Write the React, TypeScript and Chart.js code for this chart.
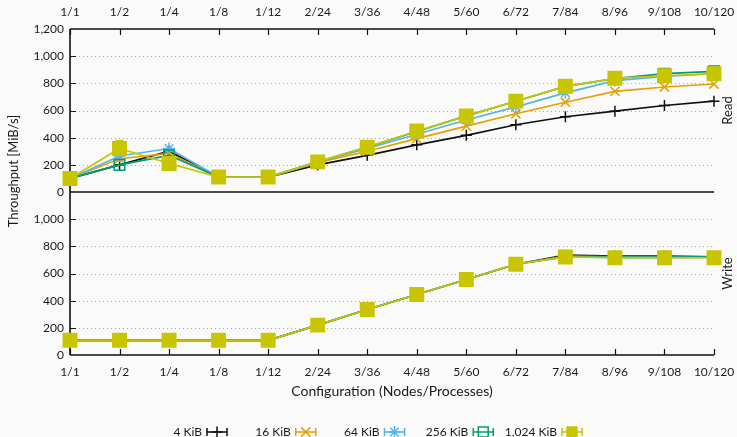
import React, { useEffect, useRef } from 'react';
import { Chart, registerables } from 'chart.js';
Chart.register(...registerables);

const categories = ['1/1', '1/2', '1/4', '1/8', '1/12', '2/24', '3/36', '4/48', '5/60', '6/72', '7/84', '8/96', '9/108', '10/120'];
const seriesNames = ['4 KiB', '16 KiB', '64 KiB', '256 KiB', '1,024 KiB'];

const read4 = [100, 200, 300, 110, 110, 200, 270, 347, 417, 495, 554, 595, 637, 669];
const read16 = [100, 245, 285, 110, 110, 215, 300, 393, 485, 576, 661, 741, 773, 795];
const read64 = [100, 265, 320, 110, 110, 220, 320, 425, 530, 627, 730, 820, 851, 871];
const read256 = [100, 200, 270, 110, 110, 222, 330, 445, 560, 668, 778, 835, 871, 888];
const read1024 = [100, 320, 210, 110, 110, 222, 330, 449, 559, 669, 778, 837, 856, 871];
const read1024Err = [0, 60, 20, 0, 0, 0, 0, 0, 0, 0, 0, 0, 0, 0];

const write4 = [108, 108, 108, 108, 108, 220, 335, 445, 556, 668, 735, 728, 728, 722];
const write16 = [108, 108, 108, 108, 108, 220, 335, 445, 556, 668, 728, 722, 720, 718];
const write64 = [108, 108, 108, 108, 108, 220, 335, 445, 556, 668, 724, 718, 718, 718];
const write256 = [108, 108, 108, 108, 108, 220, 335, 445, 556, 668, 722, 718, 718, 722];
const write1024 = [108, 108, 108, 108, 108, 220, 335, 445, 556, 668, 722, 716, 716, 716];

const yTicks = [0, 200, 400, 600, 800, 1000, 1200];
const yMin = 0;
const yMax = 1200;
const yStep = 200;

const colors = ['#111111', '#E69F00', '#56B4E9', '#009E73', '#C9C500'];
const pointStyles = ['cross', 'crossRot', 'star', 'rect', 'rect'];
const pointRadii = [5.5, 6.5, 6, 7.5, 9.5];
const pointFills = ['#111111', '#E69F00', '#56B4E9', 'rgba(0,0,0,0)', '#C9C500'];

const readSeries = [read4, read16, read64, read256, read1024];
const writeSeries = [write4, write16, write64, write256, write1024];

const FONT = 'Lato, "Open Sans", sans-serif';
const TEXT = '#1a1a1a';

const fmt = (v: number) => v.toLocaleString('en-US');

function drawMarker(ctx: CanvasRenderingContext2D, style: string, x: number, y: number, r: number, stroke: string, fill: string) {
  ctx.save();
  ctx.strokeStyle = stroke;
  ctx.fillStyle = fill;
  ctx.lineWidth = 1.5;
  ctx.beginPath();
  if (style === 'cross') {
    ctx.moveTo(x - r, y); ctx.lineTo(x + r, y);
    ctx.moveTo(x, y - r); ctx.lineTo(x, y + r);
    ctx.stroke();
  } else if (style === 'crossRot') {
    const o = r * Math.SQRT1_2;
    ctx.moveTo(x - o, y - o); ctx.lineTo(x + o, y + o);
    ctx.moveTo(x - o, y + o); ctx.lineTo(x + o, y - o);
    ctx.stroke();
  } else if (style === 'star') {
    const o = r * Math.SQRT1_2;
    ctx.moveTo(x - r, y); ctx.lineTo(x + r, y);
    ctx.moveTo(x, y - r); ctx.lineTo(x, y + r);
    ctx.moveTo(x - o, y - o); ctx.lineTo(x + o, y + o);
    ctx.moveTo(x - o, y + o); ctx.lineTo(x + o, y - o);
    ctx.stroke();
  } else {
    const s = r * Math.SQRT1_2;
    ctx.rect(x - s, y - s, 2 * s, 2 * s);
    ctx.fill();
    ctx.stroke();
  }
  ctx.restore();
}

const framePlugin = {
  id: 'frame',
  beforeDatasetsDraw(chart: any) {
    const { ctx, chartArea, scales } = chart;
    const { left, right, top, bottom } = chartArea;
    const mid = scales.yRead.bottom;
    ctx.save();
    // dotted grid
    ctx.strokeStyle = '#a8a8a8';
    ctx.lineWidth = 1;
    ctx.setLineDash([1, 3]);
    ctx.beginPath();
    [scales.yRead, scales.yWrite].forEach((sc: any) => {
      yTicks.forEach((v) => {
        if (v === yMin || v === yMax) return;
        const y = Math.round(sc.getPixelForValue(v)) + 0.5;
        ctx.moveTo(left + 9, y); ctx.lineTo(right, y);
      });
    });
    ctx.stroke();
    ctx.setLineDash([]);
    // y inward ticks
    ctx.strokeStyle = '#111';
    ctx.lineWidth = 1.2;
    ctx.beginPath();
    [scales.yRead, scales.yWrite].forEach((sc: any) => {
      yTicks.forEach((v) => {
        if (v === yMin || v === yMax) return;
        const y = Math.round(sc.getPixelForValue(v)) + 0.5;
        ctx.moveTo(left, y); ctx.lineTo(left + 6, y);
      });
    });
    ctx.stroke();
    // frame
    ctx.lineWidth = 1.6;
    ctx.beginPath();
    ctx.moveTo(left, top); ctx.lineTo(right, top);
    ctx.moveTo(left, bottom); ctx.lineTo(right, bottom);
    ctx.moveTo(left, mid); ctx.lineTo(right, mid);
    ctx.moveTo(left, top); ctx.lineTo(left, bottom);
    ctx.stroke();
    ctx.lineWidth = 1.2;
    ctx.beginPath();
    categories.forEach((_, i) => {
      const x = Math.round(scales.x.getPixelForValue(i)) + 0.5;
      ctx.moveTo(x, top); ctx.lineTo(x, top + 6);
      ctx.moveTo(x, bottom); ctx.lineTo(x, bottom - 6);
    });
    ctx.stroke();
    ctx.restore();
  },
  afterDatasetsDraw(chart: any) {
    const { ctx, scales } = chart;
    ctx.save();
    ctx.strokeStyle = colors[4];
    ctx.lineWidth = 1.5;
    read1024Err.forEach((e, i) => {
      if (!e) return;
      const x = scales.x.getPixelForValue(i);
      const y1 = scales.yRead.getPixelForValue(read1024[i] + e);
      const y0 = scales.yRead.getPixelForValue(read1024[i]);
      ctx.beginPath();
      ctx.moveTo(x, y0); ctx.lineTo(x, y1);
      ctx.moveTo(x - 4, y1); ctx.lineTo(x + 4, y1);
      ctx.stroke();
    });
    ctx.restore();
  },
  afterDraw(chart: any) {
    const { ctx, chartArea, scales } = chart;
    ctx.save();
    ctx.fillStyle = TEXT;
    ctx.font = `13px ${FONT}`;
    ctx.textAlign = 'center';
    ctx.textBaseline = 'middle';
    const side = (label: string, sc: any) => {
      ctx.save();
      ctx.translate(chartArea.right + 14, (sc.top + sc.bottom) / 2);
      ctx.rotate(-Math.PI / 2);
      ctx.fillText(label, 0, 0);
      ctx.restore();
    };
    side('Read', scales.yRead);
    side('Write', scales.yWrite);
    ctx.save();
    ctx.translate(14, 171);
    ctx.rotate(-Math.PI / 2);
    ctx.fillText('Throughput [MiB/s]', 0, 0);
    ctx.restore();

    // legend
    ctx.font = `12px ${FONT}`;
    ctx.textAlign = 'right';
    const ly = 432;
    seriesNames.forEach((name, i) => {
      const sx = 207 + i * 88.75;
      ctx.fillStyle = TEXT;
      ctx.fillText(name, sx - 5, ly);
      ctx.strokeStyle = colors[i];
      ctx.lineWidth = 1.5;
      ctx.beginPath();
      ctx.moveTo(sx, ly); ctx.lineTo(sx + 20, ly);
      ctx.moveTo(sx, ly - 4); ctx.lineTo(sx, ly + 4);
      ctx.moveTo(sx + 20, ly - 4); ctx.lineTo(sx + 20, ly + 4);
      ctx.stroke();
      drawMarker(ctx, pointStyles[i], sx + 10, ly, Math.min(pointRadii[i], 7), colors[i], pointFills[i]);
    });
    ctx.restore();
  },
};

export default function App() {
  const ref = useRef<HTMLCanvasElement | null>(null);
  useEffect(() => {
    if (!ref.current) return;
    Chart.defaults.font.family = FONT;
    Chart.defaults.font.size = 12;
    Chart.defaults.color = TEXT;

    const mk = (data: number[], i: number, axis: string) => ({
      label: seriesNames[i],
      data,
      xAxisID: 'x',
      yAxisID: axis,
      borderColor: colors[i],
      backgroundColor: pointFills[i],
      pointBorderColor: colors[i],
      pointBackgroundColor: pointFills[i],
      pointStyle: pointStyles[i],
      pointRadius: pointRadii[i],
      pointBorderWidth: 1.5,
      borderWidth: 1.7,
      tension: 0,
      clip: false,
      order: 5 - i,
    });

    const datasets = [
      ...readSeries.map((d, i) => mk(d, i, 'yRead')),
      ...writeSeries.map((d, i) => mk(d, i, 'yWrite')),
    ];

    const yAxis = (hideTop: boolean) => ({
      type: 'linear',
      position: 'left',
      stack: 'panels',
      stackWeight: 1,
      min: yMin,
      max: yMax,
      grid: { display: false, drawTicks: false },
      border: { display: false },
      ticks: {
        stepSize: yStep,
        autoSkip: false,
        padding: 6,
        color: TEXT,
        font: { size: 12 },
        callback: (v: number) => (hideTop && v === yMax ? '' : fmt(v)),
      },
      afterFit: (s: any) => { s.width = 70; },
    });

    const chart = new Chart(ref.current, {
      type: 'line',
      data: { labels: categories, datasets },
      plugins: [framePlugin],
      options: {
        animation: false,
        responsive: false,
        devicePixelRatio: 1,
        layout: { padding: { left: 0, right: 23, top: 0, bottom: 37 } },
        plugins: { legend: { display: false }, tooltip: { enabled: false } },
        scales: {
          x: {
            type: 'category',
            position: 'bottom',
            grid: { display: false, drawTicks: false },
            border: { display: false },
            ticks: { padding: 10, autoSkip: false, maxRotation: 0, color: TEXT, font: { size: 12 } },
            title: { display: true, text: 'Configuration (Nodes/Processes)', color: TEXT, font: { size: 14 }, padding: { top: 0, bottom: 0 } },
            afterFit: (s: any) => { s.height = 45; s.paddingLeft = 0; s.paddingRight = 0; },
          },
          xTop: {
            type: 'category',
            position: 'top',
            labels: categories,
            grid: { display: false, drawTicks: false },
            border: { display: false },
            ticks: { padding: 10, autoSkip: false, maxRotation: 0, color: TEXT, font: { size: 12 } },
            afterFit: (s: any) => { s.height = 29; s.paddingLeft = 0; s.paddingRight = 0; },
          },
          yWrite: yAxis(true),
          yRead: yAxis(false),
        },
      } as any,
    });
    return () => chart.destroy();
  }, []);

  return (
    <div style={{ position: 'fixed', left: 0, top: 0, width: 737, height: 437, background: '#fafafa' }}>
      <canvas ref={ref} width={737} height={437} style={{ width: 737, height: 437, display: 'block' }} />
    </div>
  );
}
